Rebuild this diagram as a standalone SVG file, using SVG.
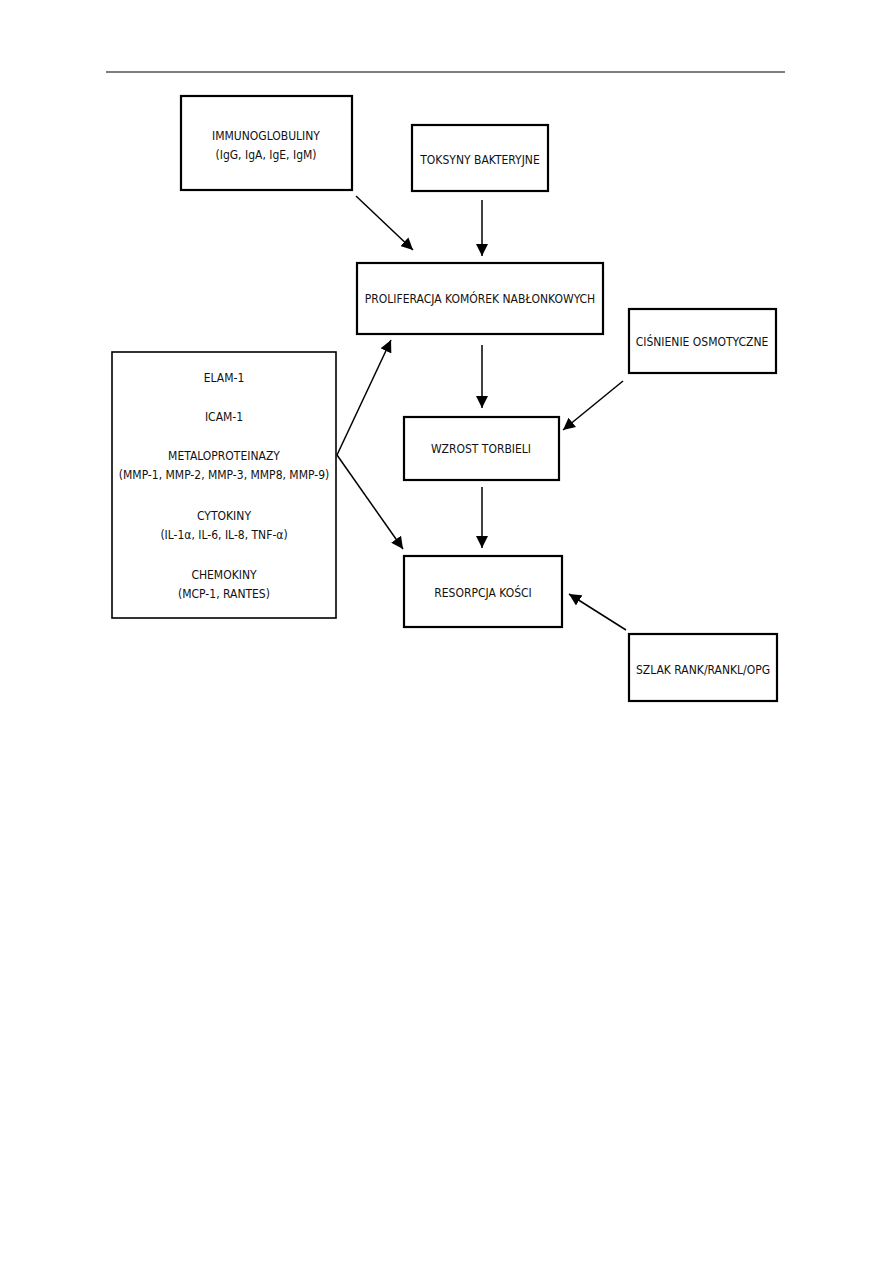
<svg xmlns="http://www.w3.org/2000/svg" width="893" height="1263" viewBox="0 0 893 1263">
<defs>
<marker id="ah" viewBox="0 0 10 10" refX="10" refY="5" markerWidth="12" markerHeight="12" markerUnits="userSpaceOnUse" orient="auto">
<path d="M0,0 L10,5 L0,10 Z" fill="#000"/>
</marker>
</defs>
<style>
.box{fill:#fff;stroke:#000;stroke-width:2.2}
.thin{fill:#fff;stroke:#000;stroke-width:1.6}
text{font-family:"DejaVu Sans Condensed","DejaVu Sans",sans-serif;font-size:12px;fill:#111;text-anchor:middle}
.c line{stroke:#000;stroke-width:1.5;marker-end:url(#ah)}
</style>
<rect width="893" height="1263" fill="#fff"/>
<line x1="106" y1="72" x2="785" y2="72" stroke="#000" stroke-width="1.2"/>
<g id="immunoglobuliny"><rect class="box" x="181" y="96" width="171" height="94"/><text x="266" y="140">IMMUNOGLOBULINY</text><text x="266" y="159">(IgG, IgA, IgE, IgM)</text></g>
<g id="toksyny"><rect class="box" x="412" y="125" width="136" height="66"/><text x="480" y="164">TOKSYNY BAKTERYJNE</text></g>
<g id="proliferacja"><rect class="box" x="357" y="263" width="246" height="71"/><text x="480" y="303">PROLIFERACJA KOMÓREK NABŁONKOWYCH</text></g>
<g id="cisnienie"><rect class="box" x="629" y="309" width="147" height="64"/><text x="702" y="346">CIŚNIENIE OSMOTYCZNE</text></g>
<g id="czynniki"><rect class="thin" x="112" y="352" width="224" height="266"/>
<text x="224" y="382">ELAM-1</text>
<text x="224" y="421">ICAM-1</text>
<text x="224" y="460">METALOPROTEINAZY</text>
<text x="224" y="479">(MMP-1, MMP-2, MMP-3, MMP8, MMP-9)</text>
<text x="224" y="520">CYTOKINY</text>
<text x="224" y="539">(IL-1α, IL-6, IL-8, TNF-α)</text>
<text x="224" y="579">CHEMOKINY</text>
<text x="224" y="598">(MCP-1, RANTES)</text></g>
<g id="wzrost"><rect class="box" x="404" y="417" width="155" height="63"/><text x="481" y="453">WZROST TORBIELI</text></g>
<g id="resorpcja"><rect class="box" x="404" y="556" width="158" height="71"/><text x="483" y="597">RESORPCJA KOŚCI</text></g>
<g id="szlak"><rect class="box" x="629" y="634" width="148" height="67"/><text x="703" y="674">SZLAK RANK/RANKL/OPG</text></g>
<g class="c" id="connectors">
<line x1="356" y1="196" x2="413" y2="250"/>
<line x1="482" y1="200" x2="482" y2="256"/>
<line x1="482" y1="345" x2="482" y2="408"/>
<line x1="623" y1="381" x2="563" y2="430"/>
<line x1="337" y1="455" x2="391" y2="340"/>
<line x1="337" y1="455" x2="403" y2="549"/>
<line x1="482" y1="487" x2="482" y2="548"/>
<line x1="626" y1="630" x2="569" y2="594"/>
</g>
</svg>
